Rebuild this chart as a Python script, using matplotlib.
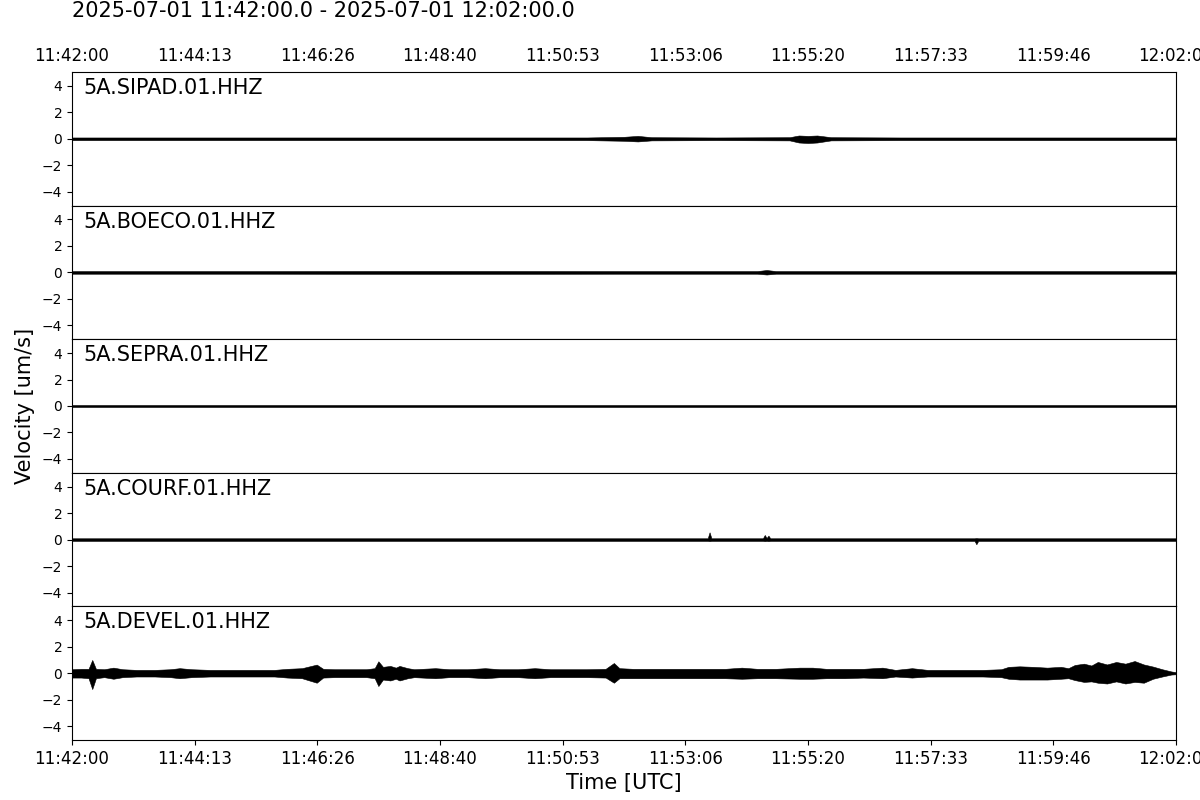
import numpy as np
import matplotlib
matplotlib.use("Agg")
import matplotlib.pyplot as plt

# station names (top to bottom)
stations = ['5A.SIPAD.01.HHZ', '5A.BOECO.01.HHZ', '5A.SEPRA.01.HHZ',
            '5A.COURF.01.HHZ', '5A.DEVEL.01.HHZ']

# x tick labels (10 ticks over the 20 min window)
tick_labels = ['11:42:00', '11:44:13', '11:46:26', '11:48:40', '11:50:53',
               '11:53:06', '11:55:20', '11:57:33', '11:59:46', '12:02:00']

title_str = '2025-07-01 11:42:00.0 - 2025-07-01 12:02:00.0'

# trace envelopes: seconds after 11:42:00, upper / lower amplitude [um/s]
sipad_t = [0, 150, 300, 450, 560, 600, 615, 630, 700, 780, 790, 800, 810, 825, 900, 1050, 1200]
sipad_up = [0.1, 0.1, 0.1, 0.1, 0.1, 0.15, 0.22, 0.12, 0.1, 0.12, 0.25, 0.22, 0.25, 0.12, 0.1, 0.1, 0.1]
sipad_dn = [0.1, 0.1, 0.1, 0.1, 0.1, 0.15, 0.2, 0.12, 0.1, 0.12, 0.28, 0.32, 0.28, 0.12, 0.1, 0.1, 0.1]

boeco_t = [0, 200, 400, 600, 745, 755, 765, 900, 1050, 1200]
boeco_up = [0.1, 0.1, 0.11, 0.1, 0.1, 0.18, 0.1, 0.1, 0.1, 0.1]
boeco_dn = [0.1, 0.1, 0.11, 0.1, 0.1, 0.16, 0.1, 0.1, 0.1, 0.1]

sepra_t = [0, 200, 400, 600, 800, 1000, 1200]
sepra_up = [0.1, 0.1, 0.1, 0.1, 0.1, 0.1, 0.1]
sepra_dn = [0.1, 0.1, 0.1, 0.1, 0.1, 0.1, 0.1]

courf_t = [0, 200, 400, 600, 691, 693, 695, 751, 753, 755, 757, 759, 900, 981, 983, 985, 1100, 1200]
courf_up = [0.1, 0.1, 0.1, 0.1, 0.1, 0.55, 0.1, 0.1, 0.35, 0.12, 0.3, 0.1, 0.1, 0.1, 0.12, 0.1, 0.1, 0.1]
courf_dn = [0.1, 0.1, 0.1, 0.1, 0.1, 0.12, 0.1, 0.1, 0.12, 0.1, 0.12, 0.1, 0.1, 0.1, 0.35, 0.1, 0.1, 0.1]

devel_t = [0, 10, 18, 22, 26, 35, 45, 55, 70, 90, 107, 117, 130, 150, 175, 200, 220,
           234, 250, 266, 273, 285, 300, 320, 329, 333, 338, 346, 352, 356, 365, 372,
           395, 410, 430, 449, 465, 485, 503, 520, 540, 560, 580, 589, 595, 610, 630,
           650, 670, 690, 710, 728, 745, 765, 791, 805, 820, 840, 860, 881, 895, 913,
           930, 960, 990, 1010, 1018, 1030, 1045, 1060, 1075, 1083, 1090, 1100, 1108,
           1115, 1125, 1135, 1145, 1155, 1165, 1175, 1185, 1195, 1200]
devel_up = [0.3, 0.33, 0.33, 1.0, 0.33, 0.3, 0.42, 0.3, 0.25, 0.25, 0.3, 0.38, 0.3, 0.25, 0.25, 0.25, 0.25,
            0.33, 0.38, 0.65, 0.33, 0.3, 0.3, 0.3, 0.38, 0.9, 0.48, 0.55, 0.42, 0.55, 0.38, 0.3,
            0.38, 0.3, 0.3, 0.38, 0.3, 0.3, 0.38, 0.3, 0.3, 0.3, 0.33, 0.77, 0.38, 0.33, 0.33,
            0.33, 0.33, 0.33, 0.33, 0.42, 0.33, 0.33, 0.42, 0.42, 0.33, 0.33, 0.33, 0.42, 0.25, 0.38,
            0.25, 0.25, 0.25, 0.3, 0.48, 0.52, 0.48, 0.42, 0.48, 0.38, 0.62, 0.72, 0.58,
            0.85, 0.66, 0.85, 0.72, 0.92, 0.66, 0.5, 0.3, 0.13, 0.08]
devel_dn = [0.33, 0.33, 0.38, 1.2, 0.38, 0.3, 0.42, 0.3, 0.25, 0.25, 0.3, 0.38, 0.3, 0.25, 0.25, 0.25, 0.25,
            0.33, 0.38, 0.72, 0.33, 0.3, 0.3, 0.3, 0.38, 0.97, 0.48, 0.55, 0.42, 0.55, 0.38, 0.3,
            0.38, 0.3, 0.3, 0.38, 0.3, 0.3, 0.38, 0.3, 0.3, 0.3, 0.33, 0.72, 0.38, 0.38, 0.38,
            0.38, 0.38, 0.38, 0.38, 0.42, 0.38, 0.38, 0.42, 0.42, 0.38, 0.38, 0.33, 0.38, 0.25, 0.33,
            0.25, 0.25, 0.25, 0.3, 0.42, 0.48, 0.48, 0.48, 0.42, 0.38, 0.52, 0.66, 0.62,
            0.72, 0.78, 0.62, 0.78, 0.66, 0.72, 0.42, 0.25, 0.1, 0.08]

traces = [(sipad_t, sipad_up, sipad_dn),
          (boeco_t, boeco_up, boeco_dn),
          (sepra_t, sepra_up, sepra_dn),
          (courf_t, courf_up, courf_dn),
          (devel_t, devel_up, devel_dn)]

fig, axes = plt.subplots(5, 1, sharex=True, figsize=(12, 8), dpi=100)
plt.subplots_adjust(left=0.06, right=0.98, top=0.91, bottom=0.075, hspace=0)

tick_pos = np.linspace(0, 1200, len(tick_labels))

for i, (ax, name, (t, up, dn)) in enumerate(zip(axes, stations, traces)):
    t = np.array(t, dtype=float)
    ax.fill_between(t, np.array(up), -np.array(dn), color='k', lw=0.4)
    ax.set_ylim(-5.05, 5.05)
    ax.set_xlim(0, 1200)
    ax.set_yticks([-4, -2, 0, 2, 4])
    ax.tick_params(axis='y', labelsize=10)
    ax.text(0.01, 0.88, name, transform=ax.transAxes, fontsize=15, va='center', ha='left')
    ax.set_xticks(tick_pos)
    ax.set_xticklabels(tick_labels)
    if i == 0:
        ax.tick_params(axis='x', top=True, labeltop=True, bottom=False, labelbottom=False,
                       length=0, pad=5, labelsize=12)
    elif i == len(axes) - 1:
        ax.tick_params(axis='x', labelsize=12)
    else:
        ax.tick_params(axis='x', bottom=False, labelbottom=False)

axes[-1].set_xlabel('Time [UTC]', fontsize=15, labelpad=4)
fig.text(0.06, 1 - 17 / 800, title_str, fontsize=15, va='baseline', ha='left')
fig.text(0.021, 0.4925, 'Velocity [um/s]', rotation=90, fontsize=15, va='center', ha='center')

plt.savefig('out.png', dpi=100)
